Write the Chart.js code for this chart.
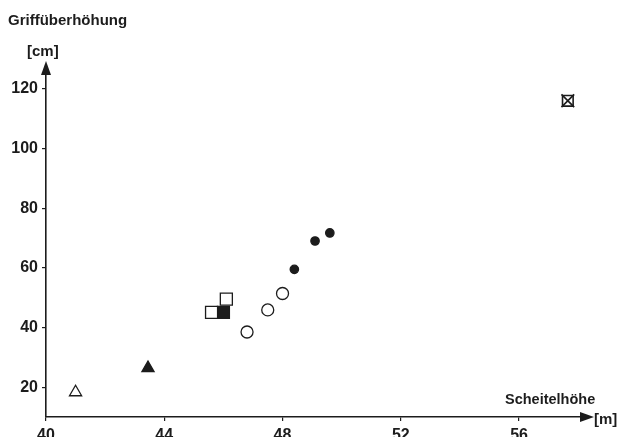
<!DOCTYPE html>
<html>
<head>
<meta charset="utf-8">
<script src="https://cdn.jsdelivr.net/npm/chart.js@4/dist/chart.umd.min.js"></script>
<style>
  html, body { margin: 0; padding: 0; background: #fff; }
  #wrap { width: 618px; height: 437px; position: relative; }
</style>
</head>
<body>
<div id="wrap"><canvas id="chart" width="618" height="437"></canvas></div>
<script>
// Scheitelhöhe [m] vs Griffüberhöhung [cm]
const xTicks = [40, 44, 48, 52, 56];
const yTicks = [20, 40, 60, 80, 100, 120];

const openTriangle = [{ x: 41.0, y: 18.3 }];
const filledTriangle = [{ x: 43.45, y: 26.4 }];
const openSquare = [{ x: 45.6, y: 45.1 }, { x: 46.1, y: 49.5 }];
const filledSquare = [{ x: 46.0, y: 45.1 }];
const openCircle = [{ x: 46.8, y: 38.5 }, { x: 47.5, y: 45.9 }, { x: 48.0, y: 51.4 }];
const filledCircle = [{ x: 48.4, y: 59.5 }, { x: 49.1, y: 69.0 }, { x: 49.6, y: 71.7 }];
const crossedSquare = [{ x: 57.65, y: 116 }];

const ink = "#1c1c1c";
const font = "'Liberation Sans', Arial, sans-serif";

function series(data, style, radius, filled, lineW) {
  return {
    data: data.map((p) => ({ x: p.x, y: p.y })),
    pointStyle: style,
    pointRadius: radius,
    pointHoverRadius: radius,
    pointBorderColor: ink,
    pointBackgroundColor: filled ? ink : "#fff",
    pointBorderWidth: lineW || 1.3,
    showLine: false,
  };
}

// arrows and loose labels drawn on top of the chart
const axisDecor = {
  id: "axisDecor",
  afterDraw(chart) {
    const { ctx, chartArea: a } = chart;
    ctx.save();
    ctx.fillStyle = ink;
    // x arrow
    ctx.beginPath();
    ctx.moveTo(a.right + 4, a.bottom);
    ctx.lineTo(a.right - 10, a.bottom - 5);
    ctx.lineTo(a.right - 10, a.bottom + 5);
    ctx.closePath();
    ctx.fill();
    // y arrow
    ctx.beginPath();
    ctx.moveTo(a.left, a.top - 4);
    ctx.lineTo(a.left - 5, a.top + 10);
    ctx.lineTo(a.left + 5, a.top + 10);
    ctx.closePath();
    ctx.fill();

    ctx.textBaseline = "middle";
    ctx.textAlign = "left";
    ctx.font = "bold 15px " + font;
    ctx.fillText("Griffüberhöhung", 8, 21);
    ctx.fillText("[cm]", 27, 52);
    ctx.font = "bold 14.5px " + font;
    ctx.fillText("Scheitelhöhe", 505, 400);
    ctx.font = "bold 15px " + font;
    ctx.fillText("[m]", 594, 420);
    ctx.restore();
  },
};

new Chart(document.getElementById("chart"), {
  type: "scatter",
  data: {
    datasets: [
      series(crossedSquare, "crossRot", 9, false, 1.6),
      series(crossedSquare, "rect", 7.5, false, 1.6),
      series(openTriangle, "triangle", 7, false),
      series(filledTriangle, "triangle", 7, true),
      series(openSquare, "rect", 8.5, false),
      series(filledSquare, "rect", 8.5, true),
      series(openCircle, "circle", 6, false),
      series(filledCircle, "circle", 4.2, true),
    ],
  },
  options: {
    responsive: false,
    animation: false,
    layout: { padding: { top: 65, right: 28, left: 0, bottom: 0 } },
    plugins: { legend: { display: false }, tooltip: { enabled: false } },
    scales: {
      x: {
        type: "linear",
        min: 40,
        max: 58.4,
        afterBuildTicks: (s) => { s.ticks = xTicks.map((v) => ({ value: v })); },
        afterFit: (s) => { s.height = 20; },
        border: { color: ink, width: 1.6 },
        grid: { display: true, drawOnChartArea: false, tickLength: 4, color: ink, lineWidth: 1.2 },
        ticks: { color: ink, padding: 5, font: { family: font, size: 16, weight: "bold" } },
      },
      y: {
        type: "linear",
        min: 10,
        max: 128,
        afterBuildTicks: (s) => { s.ticks = yTicks.map((v) => ({ value: v })); },
        afterFit: (s) => { s.width = 46; },
        border: { color: ink, width: 1.6 },
        grid: { display: true, drawOnChartArea: false, tickLength: 4, color: ink, lineWidth: 1.2 },
        ticks: { color: ink, padding: 4, font: { family: font, size: 16, weight: "bold" } },
      },
    },
  },
  plugins: [axisDecor],
});
</script>
</body>
</html>
